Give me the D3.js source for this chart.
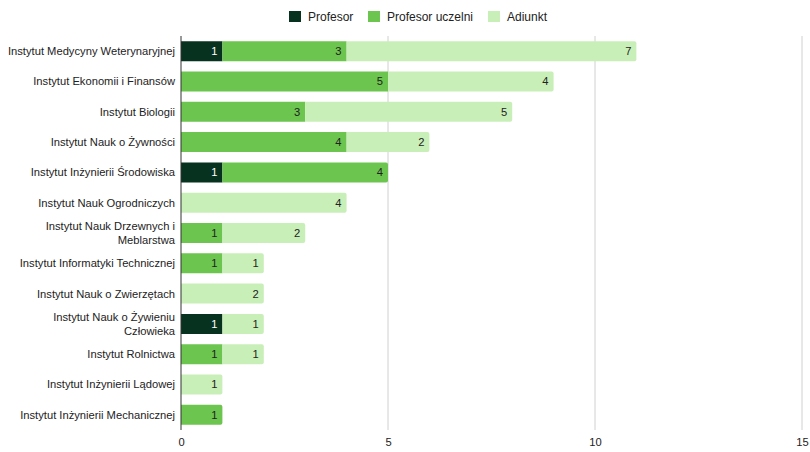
<!DOCTYPE html>
<html>
<head>
<meta charset="utf-8">
<script src="https://cdn.jsdelivr.net/npm/d3@7"></script>
<style>
  body { margin: 0; background: #fff; }
  svg { display: block; font-family: "Liberation Sans", Arial, sans-serif; }
</style>
</head>
<body>
<div id="chart"></div>
<script>
// Institutes (each entry may carry a line break for wrapped labels)
const categories = [
  "Instytut Medycyny Weterynaryjnej",
  "Instytut Ekonomii i Finansów",
  "Instytut Biologii",
  "Instytut Nauk o Żywności",
  "Instytut Inżynierii Środowiska",
  "Instytut Nauk Ogrodniczych",
  "Instytut Nauk Drzewnych i\nMeblarstwa",
  "Instytut Informatyki Technicznej",
  "Instytut Nauk o Zwierzętach",
  "Instytut Nauk o Żywieniu\nCzłowieka",
  "Instytut Rolnictwa",
  "Instytut Inżynierii Lądowej",
  "Instytut Inżynierii Mechanicznej"
];
const seriesNames = ["Profesor", "Profesor uczelni", "Adiunkt"];
const profesor        = [1, 0, 0, 0, 1, 0, 0, 0, 0, 1, 0, 0, 0];
const profesorUczelni = [3, 5, 3, 4, 4, 0, 1, 1, 0, 0, 1, 0, 1];
const adiunkt         = [7, 4, 5, 2, 0, 4, 2, 1, 2, 1, 1, 1, 0];
const xTicks = [0, 5, 10, 15];
const colors = ["#07321f", "#6cc54e", "#c9efb8"];
const labelColors = ["#ffffff", "#222222", "#222222"];

const W = 810, H = 452;
const margin = { top: 36, right: 8, bottom: 22, left: 181 };

const rows = categories.map((c, i) => ({
  name: c,
  values: [profesor[i], profesorUczelni[i], adiunkt[i]]
}));

const stack = d3.stack()
  .keys([0, 1, 2])
  .value((d, k) => d.values[k]);
const stacked = stack(rows);

const x = d3.scaleLinear().domain([0, 15]).range([margin.left, 802]);
const y = d3.scaleBand().domain(categories).range([margin.top, H - margin.bottom]).paddingInner(0.34).paddingOuter(0.17);

const svg = d3.select("#chart").append("svg").attr("width", W).attr("height", H);

// Gridlines
svg.append("g").selectAll("line")
  .data(xTicks.filter(t => t > 0))
  .join("line")
  .attr("x1", d => x(d)).attr("x2", d => x(d))
  .attr("y1", margin.top).attr("y2", H - margin.bottom)
  .attr("stroke", "#d0d0d0").attr("stroke-width", 1);

// X tick labels
const xAxis = d3.axisBottom(x).tickValues(xTicks).tickSize(0).tickPadding(6);
svg.append("g")
  .attr("transform", `translate(0,${H - margin.bottom + 2})`)
  .call(xAxis)
  .call(g => g.select(".domain").remove())
  .call(g => g.selectAll("text").attr("font-size", 11.2).attr("fill", "#222").attr("font-family", "Liberation Sans, Arial, sans-serif"));

// Index of the last non-zero segment per row (gets rounded right end)
const lastSeg = rows.map(r => {
  let k = -1;
  r.values.forEach((v, j) => { if (v > 0) k = j; });
  return k;
});

function segPath(x0, x1, y0, h, round) {
  const r = round ? Math.min(2, (x1 - x0) / 2) : 0;
  return `M${x0},${y0}H${x1 - r}` +
    (r ? `Q${x1},${y0} ${x1},${y0 + r}` : "") +
    `V${y0 + h - r}` +
    (r ? `Q${x1},${y0 + h} ${x1 - r},${y0 + h}` : "") +
    `H${x0}Z`;
}

// Bars
stacked.forEach((layer, k) => {
  const g = svg.append("g");
  layer.forEach((seg, i) => {
    const v = seg[1] - seg[0];
    if (v <= 0) return;
    const x0 = x(seg[0]), x1 = x(seg[1]);
    const yy = y(categories[i]);
    g.append("path")
      .attr("d", segPath(x0, x1, yy, y.bandwidth(), lastSeg[i] === k))
      .attr("fill", colors[k]);
    g.append("text")
      .attr("x", x1 - 5)
      .attr("y", yy + y.bandwidth() / 2)
      .attr("dy", "0.35em")
      .attr("text-anchor", "end")
      .attr("font-size", 11.2)
      .attr("fill", labelColors[k])
      .text(v);
  });
});

// Y axis line
svg.append("line")
  .attr("x1", margin.left).attr("x2", margin.left)
  .attr("y1", margin.top).attr("y2", H - margin.bottom)
  .attr("stroke", "#333").attr("stroke-width", 1);

// Category labels
const yl = svg.append("g");
categories.forEach(c => {
  const lines = c.split("\n");
  const cy = y(c) + y.bandwidth() / 2;
  const t = yl.append("text")
    .attr("x", margin.left - 6)
    .attr("text-anchor", "end")
    .attr("font-size", 11.2)
    .attr("fill", "#222");
  lines.forEach((ln, j) => {
    t.append("tspan")
      .attr("x", margin.left - 6)
      .attr("y", cy + (j - (lines.length - 1) / 2) * 14)
      .attr("dy", "0.35em")
      .text(ln);
  });
});

// Legend
const legendItems = [
  { name: seriesNames[0], x: 289 },
  { name: seriesNames[1], x: 368 },
  { name: seriesNames[2], x: 488 }
];
const lg = svg.append("g");
legendItems.forEach((d, k) => {
  lg.append("rect").attr("x", d.x).attr("y", 11).attr("width", 12).attr("height", 11).attr("fill", colors[k]);
  lg.append("text").attr("x", d.x + 19).attr("y", 16.5).attr("dy", "0.35em")
    .attr("font-size", 12).attr("fill", "#222").text(d.name);
});
</script>
</body>
</html>
